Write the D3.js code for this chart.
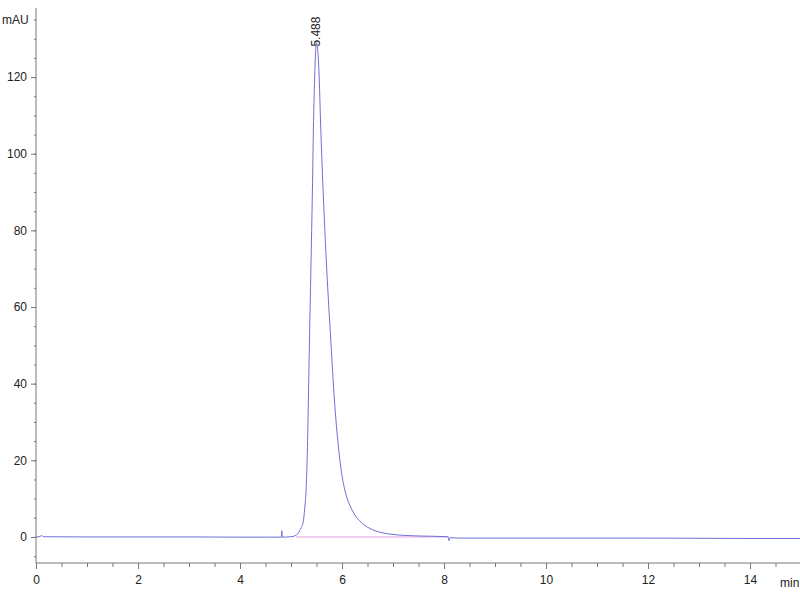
<!DOCTYPE html>
<html><head><meta charset="utf-8">
<script src="https://cdn.jsdelivr.net/npm/d3@7"></script>
<style>
html,body{margin:0;padding:0;background:#fff;}
svg text{font-family:"Liberation Sans",Arial,sans-serif;}
</style></head>
<body>
<svg id="c" width="800" height="600"></svg>
<script>
// Data (time in min, absorbance in mAU)
const times = [0, 0.08, 0.11, 0.14, 1.0, 2.0, 3.0, 4.0, 4.6, 4.815, 4.82, 4.825, 4.83, 5.0, 5.08, 5.14, 5.20, 5.24, 5.27, 5.30, 5.32, 5.34, 5.36, 5.39, 5.42, 5.44, 5.46, 5.48, 5.50, 5.52, 5.55, 5.58, 5.63, 5.70, 5.78, 5.85, 5.93, 6.00, 6.08, 6.18, 6.28, 6.40, 6.55, 6.75, 7.0, 7.5, 8.0, 8.08, 8.10, 8.12, 8.3, 9.0, 10.0, 11.0, 12.0, 13.0, 14.0, 15.0];
const signal = [0, 0.1, 0.4, 0.05, 0, 0, 0, -0.05, -0.05, -0.05, 1.6, 0.4, -0.05, 0.05, 0.3, 1.0, 2.4, 4.0, 7.5, 13.5, 22, 35, 50, 70, 90.5, 107, 118, 126, 129, 127.5, 121, 108, 90.5, 70, 51.4, 36, 23.5, 16, 11, 7.5, 5.2, 3.5, 2.2, 1.2, 0.65, 0.25, 0.1, 0.0, -1.0, -0.2, -0.3, -0.3, -0.3, -0.3, -0.3, -0.35, -0.4, -0.4];
const baselineRange = [5.1, 8.1];
const peakLabel = "5.488";
const peakTime = 5.488;
const peakValue = 129;
const xMajor = [0, 2, 4, 6, 8, 10, 12, 14];
const yMajor = [0, 20, 40, 60, 80, 100, 120];

const svg = d3.select("#c");
const x = d3.scaleLinear().domain([0, 15]).range([36, 801]);
const y = d3.scaleLinear().domain([-6.8, 137.5]).range([563, 10]);

const axisColor = "#777";
const textColor = "#222";

// x axis minor
const xMinor = d3.range(0, 15.01, 0.5);
const gx = svg.append("g").attr("transform", "translate(0,563)");
gx.call(d3.axisBottom(x).tickValues(xMinor).tickSize(4).tickFormat(""));
const gx2 = svg.append("g").attr("transform", "translate(0,563)");
gx2.call(d3.axisBottom(x).tickValues(xMajor).tickSize(6).tickFormat(d3.format("d")).tickPadding(6));
[gx, gx2].forEach(g => {
  g.select(".domain").attr("stroke", axisColor).attr("d", "M36,0H800");
  g.selectAll(".tick line").attr("stroke", axisColor);
  g.selectAll(".tick text").attr("fill", textColor).attr("font-size", 12).attr("font-family", "Liberation Sans, Arial, sans-serif");
});
gx2.select(".domain").remove();

// y axis
const yMinor = d3.range(-5, 136, 5);
const gy = svg.append("g").attr("transform", "translate(36,0)");
gy.call(d3.axisLeft(y).tickValues(yMinor).tickSize(2).tickFormat(""));
const gy2 = svg.append("g").attr("transform", "translate(36,0)");
gy2.call(d3.axisLeft(y).tickValues(yMajor).tickSize(5).tickFormat(d3.format("d")).tickPadding(4));
[gy, gy2].forEach(g => {
  g.select(".domain").attr("stroke", axisColor).attr("d", "M0,8V563");
  g.selectAll(".tick line").attr("stroke", axisColor);
  g.selectAll(".tick text").attr("fill", textColor).attr("font-size", 12).attr("font-family", "Liberation Sans, Arial, sans-serif");
});
gy2.select(".domain").remove();

// axis unit labels
svg.append("text").attr("x", 2).attr("y", 24).attr("font-size", 12).attr("fill", textColor).text("mAU");
svg.append("text").attr("x", 780).attr("y", 587).attr("font-size", 12).attr("fill", textColor).text("min");

// integration baseline
svg.append("line")
  .attr("x1", x(baselineRange[0])).attr("x2", x(baselineRange[1]))
  .attr("y1", y(0)).attr("y2", y(0))
  .attr("stroke", "#e7a3e3").attr("stroke-width", 1);

// signal
const pts = times.map((t, i) => [t, signal[i]]);
const line = d3.line().x(d => x(d[0])).y(d => y(d[1])).curve(d3.curveMonotoneX);
svg.append("path").datum(pts).attr("d", line)
  .attr("fill", "none").attr("stroke", "#6f6fd6").attr("stroke-width", 1);

// peak label
svg.append("text")
  .attr("transform", `translate(${x(peakTime) + 4},${y(peakValue) + 4}) rotate(-90)`)
  .attr("font-size", 12).attr("fill", textColor).attr("text-anchor", "start")
  .text(peakLabel);
</script>
</body></html>
